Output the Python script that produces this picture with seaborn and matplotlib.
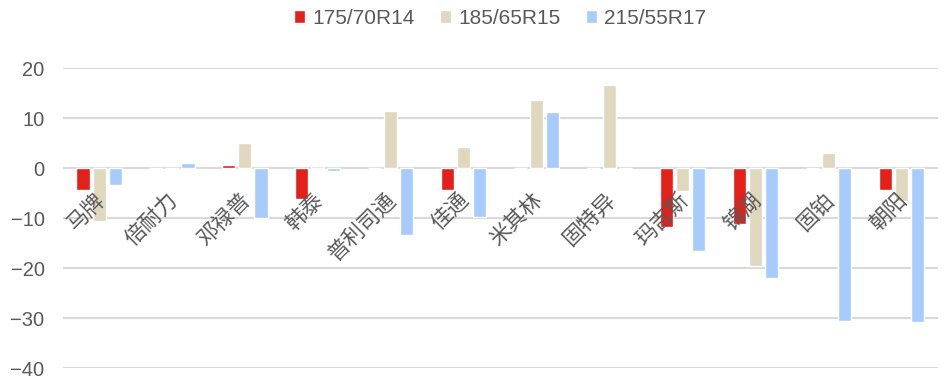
import numpy as np
import pandas as pd
import matplotlib
matplotlib.use("Agg")
import matplotlib.pyplot as plt
import seaborn as sns

# data
brands = ["马牌", "倍耐力", "邓禄普", "韩泰", "普利司通", "佳通",
          "米其林", "固特异", "玛吉斯", "锦湖", "固铂", "朝阳"]
sizes = ["175/70R14", "185/65R15", "215/55R17"]
r14 = [-4.4, 0.0, 0.7, -6.2, 0.0, -4.4, 0.0, 0.0, -11.8, -11.2, 0.0, -4.3]
r15 = [-10.5, 0.0, 5.0, 0.4, 11.4, 4.3, 13.6, 16.6, -4.6, -19.6, 3.0, -6.6]
r17 = [-3.3, 1.0, -10.0, -0.6, -13.4, -9.8, 11.2, 0.0, -16.6, -22.0, -30.6, -30.8]
colors = ["#E3201A", "#E0D7BF", "#A8CBFE"]

df = pd.DataFrame({
    "brand": brands * 3,
    "size": [sizes[0]] * 12 + [sizes[1]] * 12 + [sizes[2]] * 12,
    "value": r14 + r15 + r17,
})

sns.set_style("white")
plt.rcParams["font.family"] = ["Liberation Sans", "Noto Sans CJK SC", "DejaVu Sans"]
grey = "#595959"

fig = plt.figure(figsize=(9.49, 3.78), dpi=100)
ax = fig.add_axes([0.066, 0.026, 0.922, 0.794])

sns.barplot(data=df, x="brand", y="value", hue="size", palette=colors,
            saturation=1, width=0.66, gap=0.18, ax=ax, zorder=3)

ax.set_ylim(-40, 20)
ax.set_yticks(np.arange(-40, 21, 10))
ax.set_xlim(-0.5, len(brands) - 0.5)
ax.yaxis.grid(True, color="#D9D9D9", linewidth=1.5, zorder=0)
ax.set_axisbelow(True)
for s in ax.spines.values():
    s.set_visible(False)
ax.tick_params(axis="y", length=0, labelsize=14.5, labelcolor=grey, pad=13)
ax.set_xticks([])
ax.set_xlabel("")
ax.set_ylabel("")

# category labels sit under the zero line, rotated like Excel does
for i, b in enumerate(brands):
    ax.annotate(b, xy=(i, 0), xytext=(-4, -15), textcoords="offset points",
                rotation=45, ha="right", va="top", rotation_mode="anchor",
                fontsize=15.5, color=grey, family=["Noto Sans CJK SC", "DejaVu Sans"],
                zorder=4)

ax.legend(loc="upper center", bbox_to_anchor=(0.5, 1.26), ncol=3, frameon=False,
          fontsize=15, labelcolor=grey, handlelength=0.55, handleheight=0.55,
          handletextpad=0.35, columnspacing=1.2)

fig.savefig("out.png", dpi=100)
